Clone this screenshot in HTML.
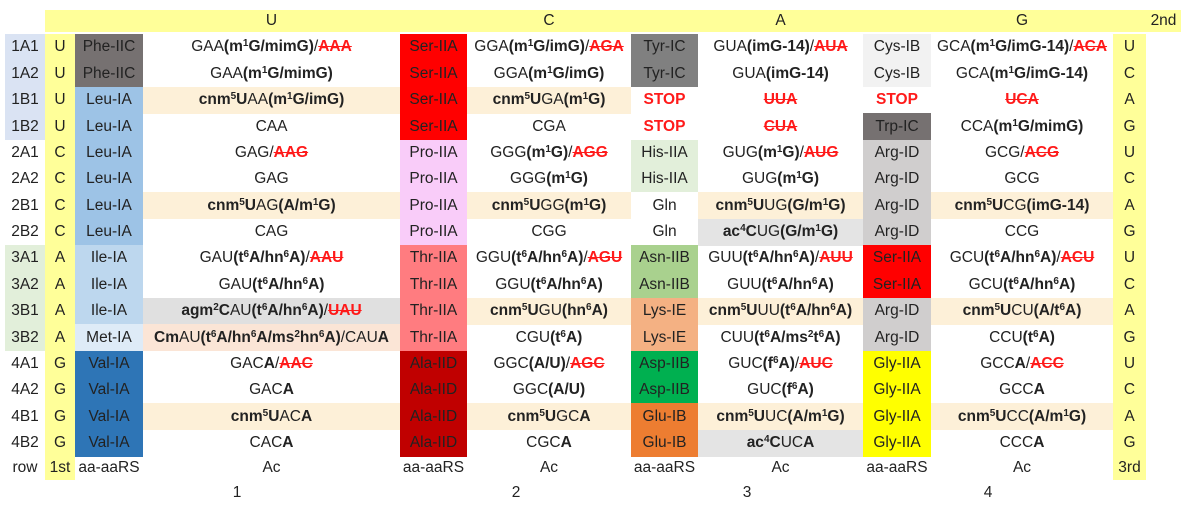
<!DOCTYPE html>
<html><head><meta charset="utf-8">
<style>
body{margin:0;width:1181px;height:513px;background:#fff;position:relative;overflow:hidden;font-family:"Liberation Sans",sans-serif;font-size:15.5px;color:#222}
.c{position:absolute;display:flex;align-items:center;justify-content:center;white-space:nowrap;box-sizing:border-box}
sup{font-size:10px;vertical-align:5px;line-height:0}
s{color:#ff1a1a;font-weight:bold}
.stop{color:#ff1a1a;font-weight:bold}
b{font-weight:bold}
</style></head><body>
<div class="c" style="left:45px;top:10px;width:1136px;height:22px;background:#ffff99"></div>
<script>
const rowLabels=["1A1","1A2","1B1","1B2","2A1","2A2","2B1","2B2","3A1","3A2","3B1","3B2","4A1","4A2","4B1","4B2"];
const firstBase=["U","U","U","U","C","C","C","C","A","A","A","A","G","G","G","G"];
const thirdBase=["U","C","A","G","U","C","A","G","U","C","A","G","U","C","A","G"];
const secondBase=["U","C","A","G"];
const aa1=["Phe-IIC","Phe-IIC","Leu-IA","Leu-IA","Leu-IA","Leu-IA","Leu-IA","Leu-IA","Ile-IA","Ile-IA","Ile-IA","Met-IA","Val-IA","Val-IA","Val-IA","Val-IA"];
const aa2=["Ser-IIA","Ser-IIA","Ser-IIA","Ser-IIA","Pro-IIA","Pro-IIA","Pro-IIA","Pro-IIA","Thr-IIA","Thr-IIA","Thr-IIA","Thr-IIA","Ala-IID","Ala-IID","Ala-IID","Ala-IID"];
const aa3=["Tyr-IC","Tyr-IC","STOP","STOP","His-IIA","His-IIA","Gln","Gln","Asn-IIB","Asn-IIB","Lys-IE","Lys-IE","Asp-IIB","Asp-IIB","Glu-IB","Glu-IB"];
const aa4=["Cys-IB","Cys-IB","STOP","Trp-IC","Arg-ID","Arg-ID","Arg-ID","Arg-ID","Ser-IIA","Ser-IIA","Arg-ID","Arg-ID","Gly-IIA","Gly-IIA","Gly-IIA","Gly-IIA"];
const m1="m<sup>1</sup>G",t6="t<sup>6</sup>A",hn6="hn<sup>6</sup>A",cnm="<b>cnm<sup>5</sup>U</b>";
const ac1=["GAA<b>("+m1+"/mimG)</b>/<s>AAA</s>","GAA<b>("+m1+"/mimG)</b>",cnm+"AA<b>("+m1+"/imG)</b>","CAA","GAG/<s>AAG</s>","GAG",cnm+"AG<b>(A/"+m1+")</b>","CAG","GAU<b>("+t6+"/"+hn6+")</b>/<s>AAU</s>","GAU<b>("+t6+"/"+hn6+")</b>","<b>agm<sup>2</sup>C</b>AU<b>("+t6+"/"+hn6+")</b>/<s>UAU</s>","<b>Cm</b>AU<b>("+t6+"/"+hn6+"/ms<sup>2</sup>"+hn6+")</b>/CAU<b>A</b>","GAC<b>A</b>/<s>AAC</s>","GAC<b>A</b>",cnm+"AC<b>A</b>","CAC<b>A</b>"];
const ac2=["GGA<b>("+m1+"/imG)</b>/<s>AGA</s>","GGA<b>("+m1+"/imG)</b>",cnm+"GA<b>("+m1+")</b>","CGA","GGG<b>("+m1+")</b>/<s>AGG</s>","GGG<b>("+m1+")</b>",cnm+"GG<b>("+m1+")</b>","CGG","GGU<b>("+t6+"/"+hn6+")</b>/<s>AGU</s>","GGU<b>("+t6+"/"+hn6+")</b>",cnm+"GU<b>("+hn6+")</b>","CGU<b>("+t6+")</b>","GGC<b>(A/U)</b>/<s>AGC</s>","GGC<b>(A/U)</b>",cnm+"GC<b>A</b>","CGC<b>A</b>"];
const ac3=["GUA<b>(imG-14)</b>/<s>AUA</s>","GUA<b>(imG-14)</b>","<s>UUA</s>","<s>CUA</s>","GUG<b>("+m1+")</b>/<s>AUG</s>","GUG<b>("+m1+")</b>",cnm+"UG<b>(G/"+m1+")</b>","<b>ac<sup>4</sup>C</b>UG<b>(G/"+m1+")</b>","GUU<b>("+t6+"/"+hn6+")</b>/<s>AUU</s>","GUU<b>("+t6+"/"+hn6+")</b>",cnm+"UU<b>("+t6+"/"+hn6+")</b>","CUU<b>("+t6+"/ms<sup>2</sup>"+t6+")</b>","GUC<b>(f<sup>6</sup>A)</b>/<s>AUC</s>","GUC<b>(f<sup>6</sup>A)</b>",cnm+"UC<b>(A/"+m1+")</b>","<b>ac<sup>4</sup>C</b>UC<b>A</b>"];
const ac4=["GCA<b>("+m1+"/imG-14)</b>/<s>ACA</s>","GCA<b>("+m1+"/imG-14)</b>","<s>UCA</s>","CCA<b>("+m1+"/mimG)</b>","GCG/<s>ACG</s>","GCG",cnm+"CG<b>(imG-14)</b>","CCG","GCU<b>("+t6+"/"+hn6+")</b>/<s>ACU</s>","GCU<b>("+t6+"/"+hn6+")</b>",cnm+"CU<b>(A/"+t6+")</b>","CCU<b>("+t6+")</b>","GCC<b>A</b>/<s>ACC</s>","GCC<b>A</b>",cnm+"CC<b>(A/"+m1+")</b>","CCC<b>A</b>"];
const aaColors={"Phe-IIC":"#767171","Leu-IA":"#9dc3e6","Ile-IA":"#bdd7ee","Met-IA":"#deebf7","Val-IA":"#2e75b6","Ser-IIA":"#ff0000","Pro-IIA":"#f9ccf9","Thr-IIA":"#ff7c80","Ala-IID":"#c00000","Tyr-IC":"#808080","STOP":"#ffffff","His-IIA":"#e2efda","Gln":"#ffffff","Asn-IIB":"#a9d18e","Lys-IE":"#f4b183","Asp-IIB":"#00b050","Glu-IB":"#ed7d31","Cys-IB":"#f2f2f2","Trp-IC":"#767171","Arg-ID":"#d0cece","Gly-IIA":"#ffff00"};
const special={"10-0":"#e0e0e0","11-0":"#fbe5d6","7-2":"#e4e4e4","15-2":"#e4e4e4","2-2":"#ffffff","2-3":"#ffffff"};

const TOP=34,RH=26.375;
const aaX=[[75,68],[400,67],[631,67],[863,68]];
const acX=[[143,257],[467,164],[698,165],[931,182]];
const aaCols=[aa1,aa2,aa3,aa4],acCols=[ac1,ac2,ac3,ac4];
function cell(x,y,w,h,html,bg){
  const d=document.createElement('div');d.className='c';
  d.style.cssText=`left:${x}px;top:${y}px;width:${w}px;height:${h}px;`+(bg?`background:${bg};`:'');
  d.innerHTML=html;document.body.appendChild(d);return d;
}
const rowBg=["#dae3f3","#dae3f3","#dae3f3","#dae3f3",null,null,null,null,"#e2efda","#e2efda","#e2efda","#e2efda",null,null,null,null];
cell(45,34,30,446,"","#ffff99");

cell(1113,34,33,446,"","#ffff99");

secondBase.forEach((b,i)=>{
  const e=cell(acX[i][0],10,acX[i][1],22,b,null);
  
  
});
const h2=cell(1146,10,35,22,"2nd",null);


for(let r=0;r<16;r++){
  const y=TOP+r*RH,h=RH+0.5;
  const rl=cell(5,y,40,h,rowLabels[r],rowBg[r]);
  
  
  const fb=cell(45,y,30,h,firstBase[r],null);
  
  
  const tb=cell(1113,y,33,h,thirdBase[r],null);
  
  
  for(let c=0;c<4;c++){
    const a=aaCols[c][r];
    const ae=cell(aaX[c][0],y,aaX[c][1],h,a==="STOP"?'<span class="stop">STOP</span>':a,aaColors[a]);
    
    
    let bg=(r%4===2)?"#fdf0d8":null;
    if(special[r+"-"+c])bg=special[r+"-"+c];
    const ce=cell(acX[c][0],y,acX[c][1],h,acCols[c][r],bg);
    
    
  }
}
const fy=TOP+16*RH;
const footer=[[5,40,"row"],[45,30,"1st"],[1113,33,"3rd"]];
footer.forEach(f=>{const e=cell(f[0],fy,f[1],24,f[2],null);
  
  });
for(let c=0;c<4;c++){
  const a=cell(aaX[c][0]-2,fy,aaX[c][1]+4,24,"aa-aaRS",null);
  
  
  const b=cell(acX[c][0],fy,acX[c][1],24,"Ac",null);
  
  
}
const groupX=[237,516,747,988];
groupX.forEach((x,i)=>{const e=cell(x-20,482,40,22,String(i+1),null);
  
  });
</script>
</body></html>
